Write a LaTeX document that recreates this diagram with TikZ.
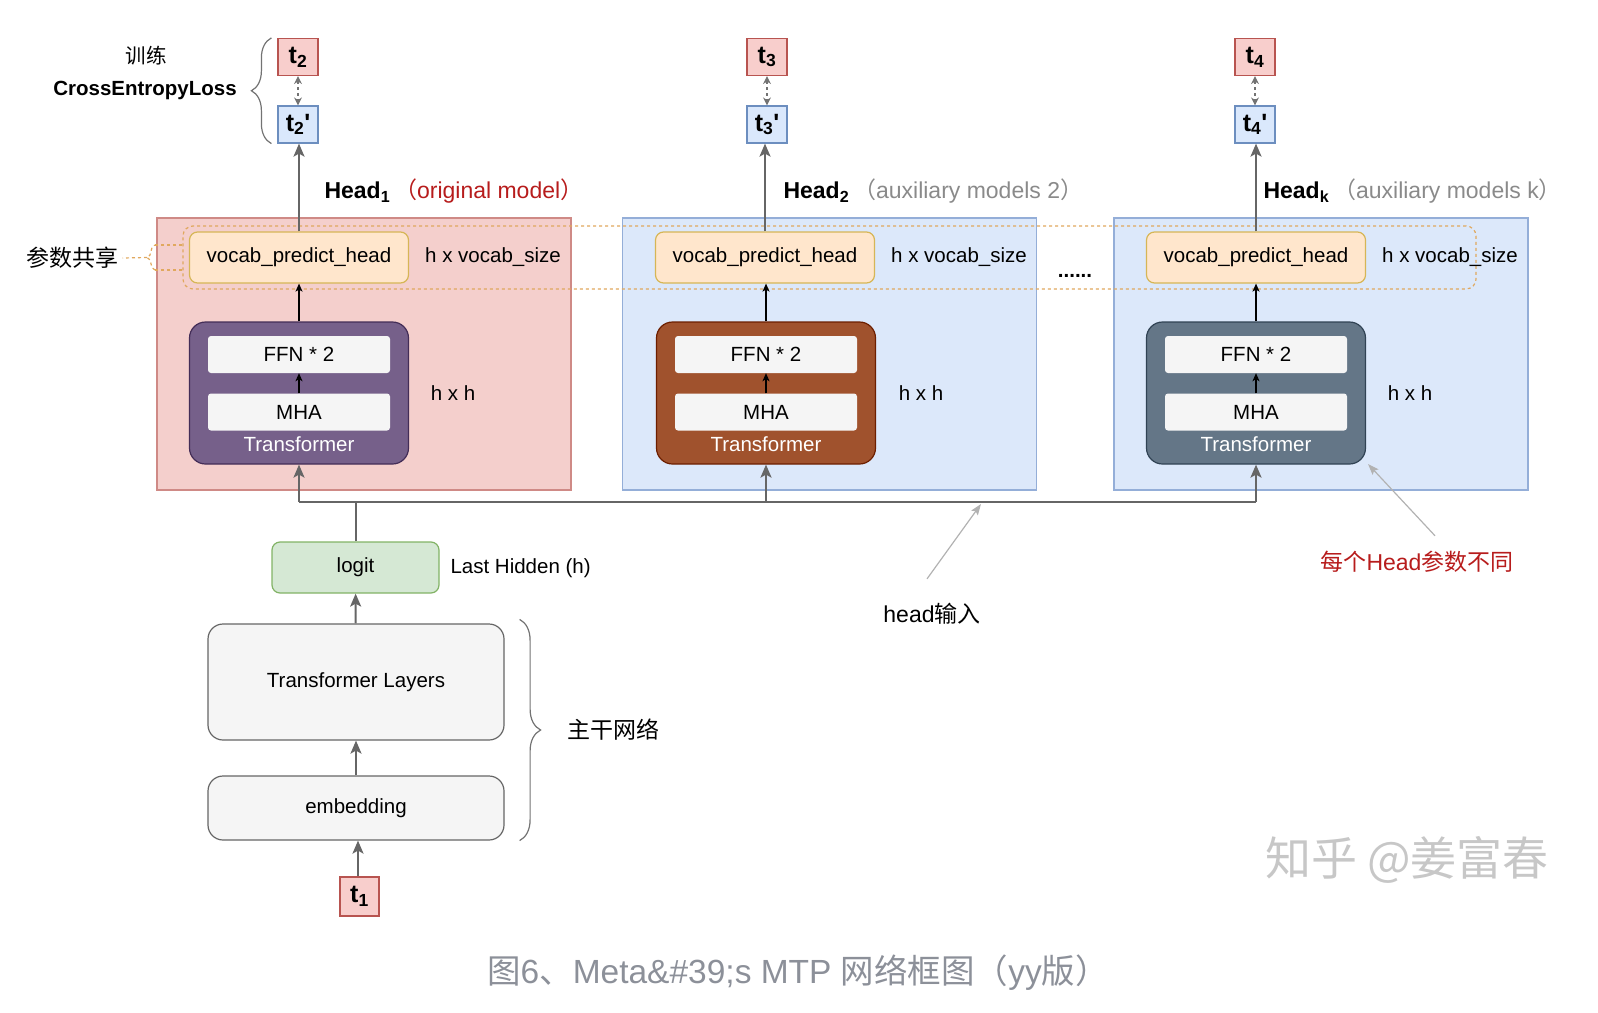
\documentclass[tikz,border=0pt]{standalone}
\usepackage{fontspec}
\setmainfont{Liberation Sans}
\newfontfamily\cjk{Noto Sans CJK SC}
\usetikzlibrary{positioning,
        shapes,
        arrows.meta,
        decorations.pathreplacing}
\usepackage{xcolor}
\definecolor{panelred}{HTML}{F4CFCC}
\definecolor{panelredline}{HTML}{CF8A86}
\definecolor{panelblue}{HTML}{DCE8FA}
\definecolor{panelblueline}{HTML}{94AED8}
\definecolor{vocabfill}{HTML}{FFE6CC}
\definecolor{vocabline}{HTML}{D6B656}
\definecolor{sharedash}{HTML}{E0A85E}
\definecolor{tfpurple}{HTML}{76608A}
\definecolor{tfpurpleline}{HTML}{432D57}
\definecolor{tfbrown}{HTML}{A0522D}
\definecolor{tfbrownline}{HTML}{6D1F00}
\definecolor{tfgray}{HTML}{647687}
\definecolor{tfgrayline}{HTML}{314354}
\definecolor{lightbox}{HTML}{F5F5F5}
\definecolor{logitfill}{HTML}{D5E8D4}
\definecolor{logitline}{HTML}{82B366}
\definecolor{tokred}{HTML}{F8CECC}
\definecolor{tokredline}{HTML}{B85450}
\definecolor{tokblue}{HTML}{DAE8FC}
\definecolor{tokblueline}{HTML}{6C8EBF}
\definecolor{darkred}{HTML}{B71C1C}
\definecolor{auxgray}{HTML}{8A8A8A}
\definecolor{capgray}{HTML}{8C9099}
\newcommand{\fbase}{\fontsize{20.5}{24}\selectfont}
\newcommand{\fnote}{\fontsize{23}{27}\selectfont}
\newcommand{\ftok}{\fontsize{25}{29}\selectfont}
\newcommand{\fcap}{\fontsize{33.5}{40}\selectfont}

\begin{document}
\begin{tikzpicture}[x=1pt,y=-1pt,
        panel/.style={draw,rectangle,line width=1.2pt,minimum width=414pt,minimum height=272pt},
        vocab/.style={draw=vocabline,fill=vocabfill,rounded corners=8pt,line width=1.2pt,minimum width=219pt,minimum height=51pt,font=\fbase},
        tfblock/.style={draw,rounded corners=16pt,line width=1.2pt,minimum width=219pt,minimum height=142pt},
        tfinner/.style={fill=lightbox,rounded corners=3pt,minimum width=182pt,minimum height=37pt,font=\fbase},
        tflabel/.style={text=white,font=\fbase},
        plainbox/.style={draw=black!60,fill=lightbox,rounded corners=15pt,line width=1.2pt,minimum width=296pt,font=\fbase},
        tok/.style={draw,line width=1.2pt,minimum width=40pt,minimum height=37pt,inner sep=0pt,font=\ftok\bfseries},
        lbl/.style={font=\fbase},
        note/.style={font=\fnote},
        grayarrow/.style={draw=black!60,line width=2pt,-{Stealth[length=13pt,width=11pt,inset=3pt]}},
        grayline/.style={draw=black!60,line width=2pt},
        blackarrow/.style={draw=black,line width=1.2pt,-{Stealth[length=8pt,width=7pt,inset=2pt]}},
        pairarrow/.style={draw=black!55,line width=1.2pt,dashed,{Stealth[length=8pt,width=8pt]}-{Stealth[length=8pt,width=8pt]}},
        notearrow/.style={draw=black!30,line width=1.2pt,-{Stealth[length=11pt,width=8pt,inset=2pt]}},
        bracegray/.style={draw=black!55,line width=1.2pt,decorate}]
\useasboundingbox (0,0) rectangle (1598,1012);

\node [panel,fill=panelred,draw=panelredline] (p1) at (364,354) {};
\node [panel,fill=panelblue,draw=panelblueline] (p2) at (829.5,354) {};
\node [panel,fill=panelblue,draw=panelblueline] (p3) at (1321,354) {};
\node [draw=sharedash,dashed,rounded corners=10pt,line width=1.2pt,minimum width=1293pt,minimum height=63pt] (share) at (829.5,257.5) {};

\node [vocab] (vph1) at (299,257.5) {vocab\_predict\_head};
\node [vocab] (vph2) at (765,257.5) {vocab\_predict\_head};
\node [vocab] (vph3) at (1256,257.5) {vocab\_predict\_head};
\node [lbl] (hv1) at (493,257) {h x vocab\_size};
\node [lbl] (hv2) at (959,257) {h x vocab\_size};
\node [lbl] (hv3) at (1450,257) {h x vocab\_size};
\node [font=\fbase\bfseries] (dots) at (1075,276) {......};

\node [tfblock,fill=tfpurple,draw=tfpurpleline] (tf1) at (299,393) {};
\node [tfinner] (ffn1) at (299,354.5) {FFN * 2};
\node [tfinner] (mha1) at (299,412) {MHA};
\node [tflabel] (tfl1) at (299,444) {Transformer};
\node [tfblock,fill=tfbrown,draw=tfbrownline] (tf2) at (766,393) {};
\node [tfinner] (ffn2) at (766,354.5) {FFN * 2};
\node [tfinner] (mha2) at (766,412) {MHA};
\node [tflabel] (tfl2) at (766,444) {Transformer};
\node [tfblock,fill=tfgray,draw=tfgrayline] (tf3) at (1256,393) {};
\node [tfinner] (ffn3) at (1256,354.5) {FFN * 2};
\node [tfinner] (mha3) at (1256,412) {MHA};
\node [tflabel] (tfl3) at (1256,444) {Transformer};
\node [lbl] (hh1) at (453,393) {h x h};
\node [lbl] (hh2) at (921,393) {h x h};
\node [lbl] (hh3) at (1410,393) {h x h};

\draw [blackarrow] (mha1) -- (ffn1);
\draw [blackarrow] (mha2) -- (ffn2);
\draw [blackarrow] (mha3) -- (ffn3);
\draw [blackarrow] (tf1) -- (vph1);
\draw [blackarrow] (tf2.north) -- (tf2.north |- vph2.south);
\draw [blackarrow] (tf3) -- (vph3);

\node [tok,fill=tokred,draw=tokredline] (t2) at (298,57) {t\textsubscript{2}};
\node [tok,fill=tokblue,draw=tokblueline] (t2p) at (298,124.5) {t\textsubscript{2}\textquotesingle};
\node [tok,fill=tokred,draw=tokredline] (t3) at (767,57) {t\textsubscript{3}};
\node [tok,fill=tokblue,draw=tokblueline] (t3p) at (767,124.5) {t\textsubscript{3}\textquotesingle};
\node [tok,fill=tokred,draw=tokredline] (t4) at (1255,57) {t\textsubscript{4}};
\node [tok,fill=tokblue,draw=tokblueline] (t4p) at (1255,124.5) {t\textsubscript{4}\textquotesingle};
\draw [pairarrow] (t2) -- (t2p);
\draw [pairarrow] (t3) -- (t3p);
\draw [pairarrow] (t4) -- (t4p);
\draw [grayarrow] (vph1.north) -- (vph1.north |- t2p.south);
\draw [grayarrow] (vph2.north) -- (vph2.north |- t3p.south);
\draw [grayarrow] (vph3.north) -- (vph3.north |- t4p.south);

\node [anchor=west,font=\fnote] (head1) at (321,191) {\textbf{Head\textsubscript{1}}\,{\color{darkred}{\cjk （}original model{\cjk ）}}};
\node [anchor=west,font=\fnote] (head2) at (780,191) {\textbf{Head\textsubscript{2}}\,{\color{auxgray}{\cjk （}auxiliary models 2{\cjk ）}}};
\node [anchor=west,font=\fnote] (head3) at (1260,191) {\textbf{Head\textsubscript{k}}\,{\color{auxgray}{\cjk （}auxiliary models k{\cjk ）}}};

\node [lbl] (train) at (146,56) {\cjk 训练};
\node [lbl,font=\fbase\bfseries] (ce) at (145,90) {CrossEntropyLoss};
\draw [bracegray,decoration={brace,amplitude=20pt}] ([xshift=-6pt]t2p.south west) -- ([xshift=-6pt]t2.north west);

\node [note] (shared) at (73,258) {\cjk 参数共享};
\draw [draw=sharedash,dashed,line width=1.2pt] (share.west |- 0,245) -- (155,245);
\draw [draw=sharedash,dashed,line width=1.2pt] (share.west |- 0,270) -- (155,270);
\draw [draw=sharedash,dashed,line width=1.2pt,decorate,decoration={brace,amplitude=8pt}] (155,270) -- (155,245);
\draw [draw=sharedash,dashed,line width=1.2pt] (147,257.5) -- (shared.east);

\node [draw=logitline,fill=logitfill,rounded corners=8pt,line width=1.2pt,minimum width=167pt,minimum height=51pt,font=\fbase] (logit) at (355.5,567.5) {logit};
\node [anchor=west,lbl] (lasth) at (447,568) {Last Hidden (h)};
\node [plainbox,minimum height=116pt] (tl) at (356,682) {Transformer Layers};
\node [plainbox,minimum height=64pt] (emb) at (356,808) {embedding};
\node [tok,fill=tokred,draw=tokredline,minimum width=39pt,minimum height=39pt] (t1) at (359.5,896.5) {t\textsubscript{1}};
\draw [grayarrow] (t1.north -| emb.south) ++(2,0) -- ([xshift=2pt]emb.south);
\draw [grayarrow] (emb) -- (tl);
\draw [grayarrow] (tl) -- (logit);
\draw [bracegray,decoration={brace,amplitude=21pt}] ([xshift=15pt,yshift=4pt]tl.north east) -- ([xshift=15pt]emb.south east);
\node [anchor=west,note] (backbone) at (564,730) {\cjk 主干网络};

\coordinate (busL) at (299,502);
\coordinate (busR) at (1256,502);
\draw [grayline] (logit.north) -- (logit.north |- busL);
\draw [grayline] (busL) -- (busR);
\draw [grayarrow] (busL) -- (tf1);
\draw [grayarrow] (tf2.south |- busL) -- (tf2);
\draw [grayarrow] (busR) -- (tf3);

\node [note] (hin) at (932,614) {head{\cjk 输入}};
\coordinate (hinTip) at (981,504);
\draw [notearrow] ([shift={(-5,-21)}]hin.north) -- (hinTip);
\node [note,text=darkred] (diff) at (1417,562) {{\cjk 每个}Head{\cjk 参数不同}};
\coordinate (diffTip) at (1368,464);
\draw [notearrow] ([shift={(18,-12)}]diff.north) -- (diffTip);

\node [font=\fontsize{46}{50}\selectfont,text=black!22] (mark) at (1407,860) {\cjk 知乎 @姜富春};
\node [font=\fcap,text=capgray] (caption) at (798,973) {{\cjk 图}6{\cjk 、}Meta\&\#39;s MTP {\cjk 网络框图（}yy{\cjk 版）}};
\end{tikzpicture}
\end{document}
